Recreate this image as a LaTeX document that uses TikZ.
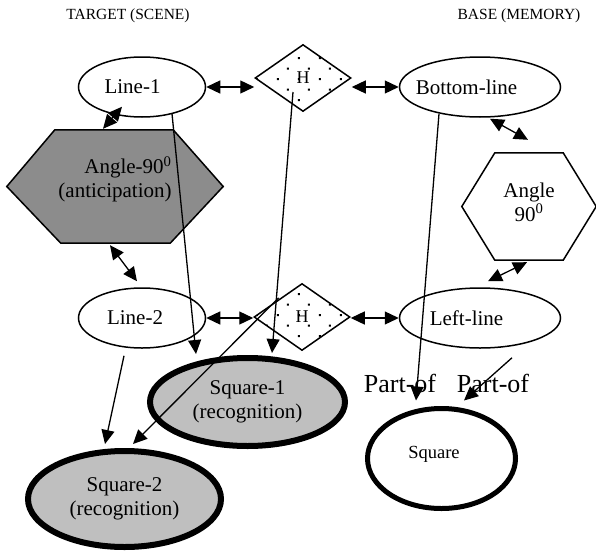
\documentclass[tikz,border=0pt]{standalone}
\usepackage{fontspec}
\setmainfont{Liberation Serif}
\usepackage{tikz}
\usetikzlibrary{shapes.geometric, arrows.meta, positioning, patterns, backgrounds}

\pgfdeclarepatternformonly{sparse dots}{\pgfqpoint{0pt}{0pt}}{\pgfqpoint{21pt}{21.4pt}}{\pgfqpoint{21pt}{21.4pt}}{%
  \pgfpathrectangle{\pgfqpoint{4pt}{4pt}}{\pgfqpoint{2pt}{2pt}}%
  \pgfpathrectangle{\pgfqpoint{14.5pt}{14.7pt}}{\pgfqpoint{2pt}{2pt}}%
  \pgfusepath{fill}%
}

\tikzstyle{arrow} = [line width=1.3pt, -{Triangle[length=14pt,width=13pt]}]
\tikzstyle{biarrow} = [line width=1.3pt, {Triangle[length=14pt,width=13pt]}-{Triangle[length=14pt,width=13pt]}]
\tikzstyle{title} = [font=\fontsize{15.5}{18}\selectfont]
\tikzstyle{feature} = [
ellipse, draw=black, line width=1.5pt, minimum width=127pt, minimum height=60pt,
inner sep=0pt, font=\fontsize{21}{24}\selectfont
]
\tikzstyle{feature_B} = [feature, minimum width=161pt]
\tikzstyle{match} = [
diamond, draw=black, line width=1.5pt, pattern=sparse dots, minimum width=96pt,
minimum height=67pt, inner sep=0pt, font=\fontsize{18}{20}\selectfont
]
\tikzstyle{hexa_S} = [
rectangle, minimum width=216pt, minimum height=113pt, inner sep=0pt,
align=right, text depth=19pt, font=\fontsize{21}{24}\selectfont
]
\tikzstyle{hexa} = [
rectangle, minimum width=134pt, minimum height=107pt, inner sep=0pt,
align=center, text depth=9pt, font=\fontsize{21}{24}\selectfont
]
\tikzstyle{hexline} = [draw=black, line width=1.5pt, line join=miter]
\tikzstyle{recog} = [
ellipse, draw=black, line width=6pt, fill=black!25, minimum width=195pt, minimum height=88pt,
inner sep=0pt, align=center, font=\fontsize{21}{24}\selectfont
]
\tikzstyle{result} = [
ellipse, draw=black, line width=5pt, minimum width=148pt, minimum height=100pt,
inner sep=0pt, text depth=13pt, font=\fontsize{18.5}{21}\selectfont
]
\tikzstyle{partof} = [inner sep=0pt, font=\fontsize{26}{28}\selectfont]

\begin{document}
\begin{tikzpicture}[node distance=160pt, x=1pt, y=1pt]
	\useasboundingbox (0,0) rectangle (596,-554);

	% Titles
	\node (T_scene) [title] at (128,-16) {TARGET (SCENE)};
	\node (T_memory) [title, right of=T_scene, xshift=231pt] {BASE (MEMORY)};

	% Target and base
	\node (L_1) [feature] at (142,-87) {\makebox[0pt]{Line-1\hspace*{19pt}}};
	\node (H_1) [match, right of=L_1, xshift=1pt, yshift=9pt] {H};
	\node (B_line) [feature_B, right of=H_1, xshift=17pt, yshift=-9pt] {\makebox[0pt]{Bottom-line\hspace*{27pt}}};
	\node (A_1) [hexa_S, below of=L_1, xshift=-27pt, yshift=60.5pt] {Angle-90\textsuperscript{0}\\(anticipation)};
	\node (A_2) [hexa, below of=B_line, xshift=49pt, yshift=40.5pt] {Angle\\90\textsuperscript{0}};
	\node (L_2) [feature, below of=A_1, xshift=27pt, yshift=28.5pt] {\makebox[0pt]{Line-2\hspace*{14pt}}};
	\node (H_2) [match, right of=L_2, yshift=1pt] {H};
	\node (L_line) [feature_B, right of=H_2, xshift=18pt, yshift=-1pt] {\makebox[0pt]{Left-line\hspace*{27pt}}};

	% Hexagon outlines behind the angle nodes
	\begin{scope}[on background layer]
		\filldraw [hexline, fill=black!45] (A_1.west) -- ([xshift=48pt]A_1.north west) -- ([xshift=-50pt]A_1.north east)
			-- (A_1.east) -- ([xshift=-53pt]A_1.south east) -- ([xshift=54pt]A_1.south west) -- cycle;
		\filldraw [hexline, fill=white] (A_2.west) -- ([xshift=33pt]A_2.north west) -- ([xshift=-33pt]A_2.north east)
			-- (A_2.east) -- ([xshift=-33pt]A_2.south east) -- ([xshift=33pt]A_2.south west) -- cycle;
	\end{scope}

	% Results
	\node (S_1) [recog, below of=H_2, xshift=-54.5pt, yshift=75pt] {Square-1\\(recognition)};
	\node (S_2) [recog, below of=L_2, xshift=-17.5pt, yshift=-21pt, minimum width=193pt, minimum height=96pt] {Square-2\\(recognition)};
	\node (Sq) [result, below of=L_line, xshift=-38.5pt, yshift=19.5pt] {\makebox[0pt]{Square\hspace*{15pt}}};
	\node (P_1) [partof, above of=Sq, xshift=-41.5pt, yshift=-84.5pt] {Part-of};
	\node (P_2) [partof, right of=P_1, xshift=-67pt] {Part-of};

	% Connections
	\draw [biarrow] (L_1.east) -- (L_1.east -| H_1.west);
	\draw [biarrow] (B_line.west -| H_1.east) -- (B_line.west);
	\draw [biarrow] (L_2.east) -- (L_2.east -| H_2.west);
	\draw [biarrow] (L_line.west -| H_2.east) -- (L_line.west);
	\draw [biarrow] ([shift={(-20pt,11pt)}]L_1.south) -- ([shift={(-12pt,1pt)}]A_1.north);
	\draw [biarrow] ([shift={(-5pt,-2pt)}]A_1.south) -- ([shift={(-5pt,6pt)}]L_2.north);
	\draw [biarrow] ([shift={(10pt,-1pt)}]B_line.south) -- ([shift={(-1pt,13pt)}]A_2.north);
	\draw [biarrow] ([shift={(-2pt,-2pt)}]A_2.south) -- ([shift={(8pt,6pt)}]L_line.north);

	% Final Connections
	\draw [arrow] ([shift={(30pt,4pt)}]L_1.south) -- ([shift={(-51.5pt,1pt)}]S_1.north);
	\draw [arrow] ([shift={(-10pt,-14pt)}]H_1.center) -- ([shift={(24.5pt,2pt)}]S_1.north);
	\draw [arrow] ([shift={(-18pt,-7pt)}]L_2.south) -- ([shift={(-19.5pt,4pt)}]S_2.north);
	\draw [arrow] ([shift={(1pt,2pt)}]H_2.north west) -- ([shift={(8.5pt,4pt)}]S_2.north);
	\draw [arrow] ([shift={(-41pt,4pt)}]B_line.south) -- ([shift={(-25.5pt,5.5pt)}]Sq.north);
	\draw [arrow] ([shift={(32pt,-9pt)}]L_line.south) -- ([shift={(22.5pt,5.5pt)}]Sq.north);

\end{tikzpicture}
\end{document}
